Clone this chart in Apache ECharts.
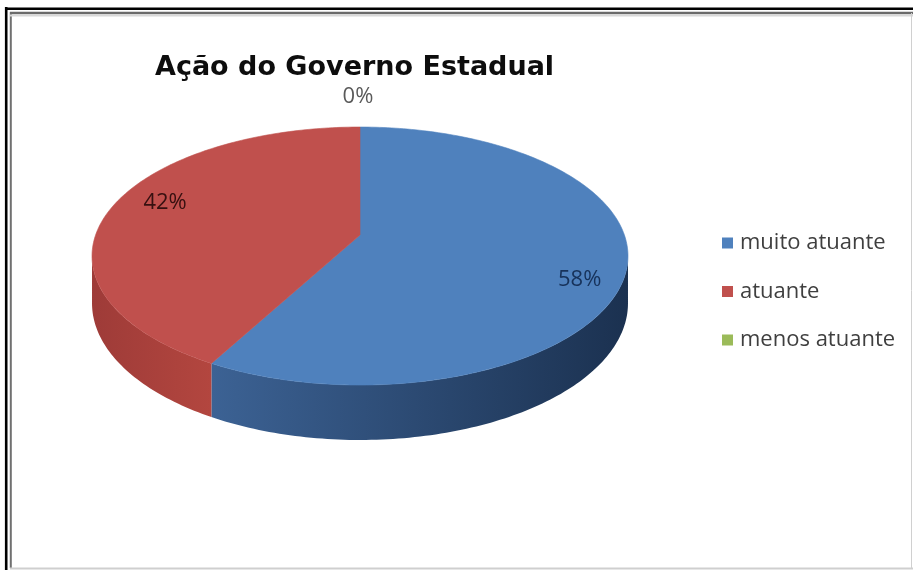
<!DOCTYPE html>
<html>
<head>
<meta charset="utf-8">
<script src="https://cdn.jsdelivr.net/npm/echarts@6/dist/echarts.min.js"></script>
<style>
  html, body { margin: 0; padding: 0; background: #ffffff; }
  #chart { width: 913px; height: 570px; }
</style>
</head>
<body>
<div id="chart"></div>
<script>
// Survey answers and their shares (percent)
const categories = ['muito atuante', 'atuante', 'menos atuante'];
const shares = [58, 42, 0];

// Palette: top face, wall gradient (left -> right), label ink
const topColors = ['#4f81bd', '#c0504d', '#9bbb59'];
const wallColors = [['#3c6294', '#1b3150'], ['#9e3b38', '#b3463f'], ['#7a9645', '#5f7a33']];
const labelInk = ['#17325a', '#361010', '#5a5a5a'];

// Tilted disc with a little perspective: (u, v) on the unit disc -> screen
const disc = { cx: 360, cy: 256, a: 264.4, b: 129, c: 21, k: 0.163, depth: 46 };
const labelRadius = 0.84;
const labelTurn = 7;
const labelDrop = [2, 4];

function project(deg, r) {
  const t = deg * Math.PI / 180;
  const u = r * Math.sin(t);
  const v = r * Math.cos(t);
  const w = 1 + disc.k * v;
  return [disc.cx + disc.a * u / w, disc.cy - (disc.b * v + disc.c) / w, w];
}

// front wall is visible between the two silhouette angles
const silA = Math.acos(-disc.k) * 180 / Math.PI;
const silB = 360 - silA;
const total = shares.reduce((s, v) => s + v, 0);

function renderSlice(params, api) {
  const i = params.seriesIndex;
  const value = api.value(0);
  let start = 0;
  for (let j = 0; j < i; j++) start += shares[j] / total * 360;
  const span = value / total * 360;
  const end = start + span;
  const children = [];

  if (span > 0) {
    const o = project(0, 0);
    const face = [[o[0], o[1]]];
    const n = Math.max(2, Math.ceil(span));
    for (let s = 0; s <= n; s++) {
      const p = project(start + span * s / n, 1);
      face.push([p[0], p[1]]);
    }
    children.push({
      type: 'polygon', z2: 10,
      shape: { points: face },
      style: { fill: topColors[i], stroke: topColors[i], lineWidth: 0.6 }
    });

    const lo = Math.max(start, silA);
    const hi = Math.min(end, silB);
    if (hi > lo) {
      const upper = [], lower = [];
      const m = Math.max(2, Math.ceil(hi - lo));
      for (let s = 0; s <= m; s++) {
        const p = project(lo + (hi - lo) * s / m, 1);
        upper.push([p[0], p[1]]);
        lower.push([p[0], p[1] + disc.depth / p[2]]);
      }
      const pts = upper.concat(lower.reverse());
      const xs = pts.map(p => p[0]);
      children.push({
        type: 'polygon', z2: 5,
        shape: { points: pts },
        style: {
          fill: {
            type: 'linear', global: true,
            x: Math.min(...xs), y: 0, x2: Math.max(...xs), y2: 0,
            colorStops: [
              { offset: 0, color: wallColors[i][0] },
              { offset: 1, color: wallColors[i][1] }
            ]
          }
        }
      });
    }
  }

  const pct = Math.round(value / total * 100) + '%';
  let lx, ly;
  if (span > 0) {
    const p = project(start + span / 2 + labelTurn, labelRadius);
    lx = p[0] + labelDrop[0]; ly = p[1] + labelDrop[1];
  } else {
    const p = project(start, 1);
    lx = p[0] - 2; ly = p[1] - 30;
  }
  children.push({
    type: 'text', z2: 20, x: lx, y: ly,
    style: {
      text: pct, fill: labelInk[i],
      font: '22px "Open Sans"',
      align: 'center', verticalAlign: 'middle'
    }
  });

  return { type: 'group', children };
}

const chart = echarts.init(document.getElementById('chart'), null, { renderer: 'canvas' });

chart.setOption({
  animation: false,
  backgroundColor: '#ffffff',
  title: {
    text: 'Ação do Governo Estadual',
    left: 150, top: 49,
    textStyle: { fontFamily: 'DejaVu Sans', fontWeight: 'bold', fontSize: 27, color: '#0d0d0d' }
  },
  legend: {
    orient: 'vertical',
    left: 717, top: 225,
    itemWidth: 11, itemHeight: 11, itemGap: 22.5,
    icon: 'rect',
    data: categories,
    textStyle: { fontFamily: 'Open Sans', fontSize: 22, lineHeight: 26, color: '#3f3f3f', padding: [0, 0, 0, 2] }
  },
  graphic: [
    { type: 'line', silent: true, shape: { x1: 6.2, y1: 7, x2: 6.2, y2: 570 }, style: { stroke: '#000', lineWidth: 2.6 } },
    { type: 'line', silent: true, shape: { x1: 5, y1: 8.7, x2: 913, y2: 8.7 }, style: { stroke: '#000', lineWidth: 2.6 } },
    { type: 'line', silent: true, shape: { x1: 10.8, y1: 12, x2: 10.8, y2: 568 }, style: { stroke: '#707070', lineWidth: 2 } },
    { type: 'line', silent: true, shape: { x1: 10, y1: 13, x2: 913, y2: 13 }, style: { stroke: '#6a6a6a', lineWidth: 2.4 } },
    { type: 'line', silent: true, shape: { x1: 10, y1: 15.5, x2: 913, y2: 15.5 }, style: { stroke: '#d8d8d8', lineWidth: 2 } },
    { type: 'line', silent: true, shape: { x1: 911.5, y1: 13, x2: 911.5, y2: 568 }, style: { stroke: '#d0d0d0', lineWidth: 1 } },
    { type: 'line', silent: true, shape: { x1: 10, y1: 568.5, x2: 913, y2: 568.5 }, style: { stroke: '#cfcfcf', lineWidth: 2 } }
  ],
  series: categories.map((name, i) => ({
    type: 'custom',
    name: name,
    coordinateSystem: 'none',
    silent: true,
    itemStyle: { color: topColors[i] },
    renderItem: renderSlice,
    data: [[shares[i]]]
  }))
});
</script>
</body>
</html>
